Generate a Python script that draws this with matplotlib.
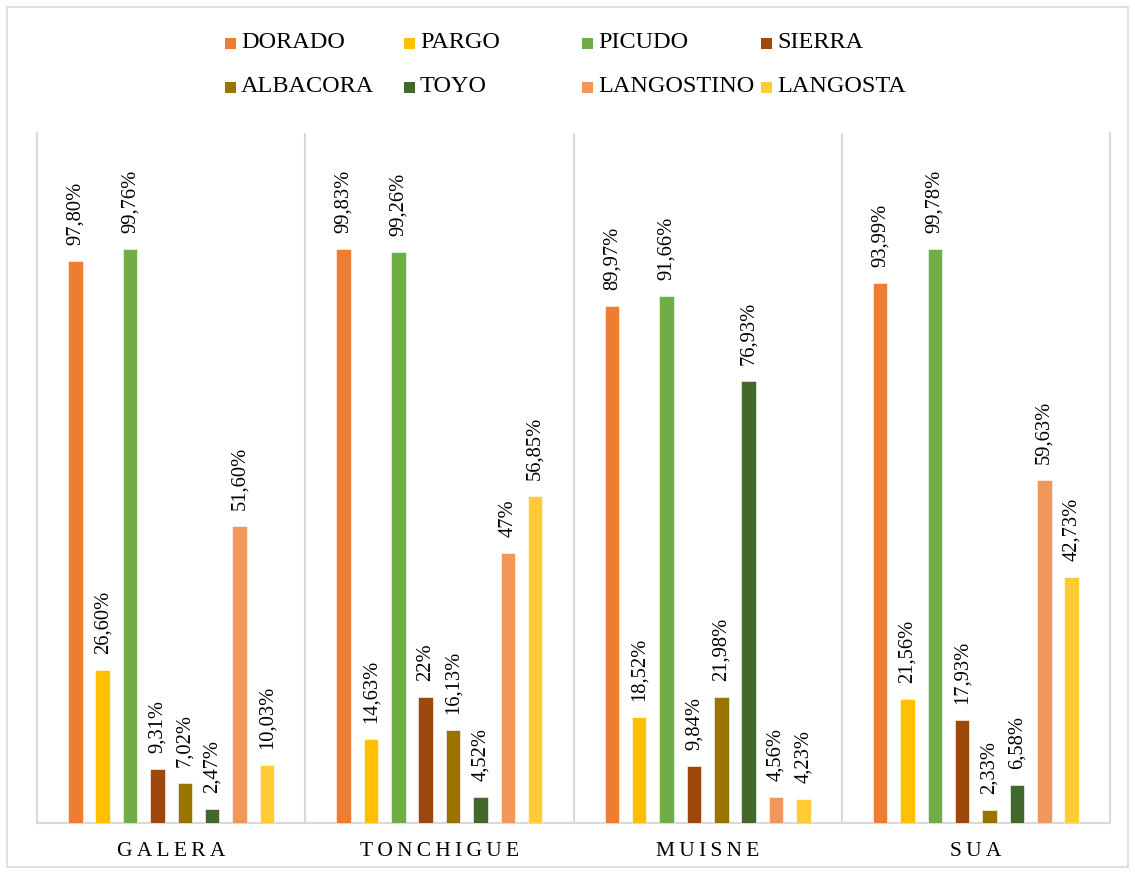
import matplotlib
matplotlib.use("Agg")
import matplotlib.pyplot as plt
from matplotlib.patches import Rectangle
import numpy as np

plt.rcParams['font.family'] = ['Liberation Serif', 'DejaVu Serif']

categories = ["GALERA", "TONCHIGUE", "MUISNE", "SUA"]
series = ["DORADO", "PARGO", "PICUDO", "SIERRA", "ALBACORA", "TOYO", "LANGOSTINO", "LANGOSTA"]
colors = ["#ED7D31", "#FFC000", "#70AD47", "#9E480E", "#997300", "#43682B", "#F1975A", "#FFCD33"]

DORADO = [97.80, 99.83, 89.97, 93.99]
PARGO = [26.60, 14.63, 18.52, 21.56]
PICUDO = [99.76, 99.26, 91.66, 99.78]
SIERRA = [9.31, 22.00, 9.84, 17.93]
ALBACORA = [7.02, 16.13, 21.98, 2.33]
TOYO = [2.47, 4.52, 76.93, 6.58]
LANGOSTINO = [51.60, 47.00, 4.56, 59.63]
LANGOSTA = [10.03, 56.85, 4.23, 42.73]

labels_DORADO = ["97,80%", "99,83%", "89,97%", "93,99%"]
labels_PARGO = ["26,60%", "14,63%", "18,52%", "21,56%"]
labels_PICUDO = ["99,76%", "99,26%", "91,66%", "99,78%"]
labels_SIERRA = ["9,31%", "22%", "9,84%", "17,93%"]
labels_ALBACORA = ["7,02%", "16,13%", "21,98%", "2,33%"]
labels_TOYO = ["2,47%", "4,52%", "76,93%", "6,58%"]
labels_LANGOSTINO = ["51,60%", "47%", "4,56%", "59,63%"]
labels_LANGOSTA = ["10,03%", "56,85%", "4,23%", "42,73%"]

values = [DORADO, PARGO, PICUDO, SIERRA, ALBACORA, TOYO, LANGOSTINO, LANGOSTA]
labels = [labels_DORADO, labels_PARGO, labels_PICUDO, labels_SIERRA,
          labels_ALBACORA, labels_TOYO, labels_LANGOSTINO, labels_LANGOSTA]

W, H = 1135, 874
fig = plt.figure(figsize=(W / 100, H / 100), dpi=100)
ax = fig.add_axes([37 / W, 1 - 823 / H, (1110 - 37) / W, (823 - 133) / H])

step = 0.102
bw = 0.054
centers = np.arange(len(categories)) + 0.5
for i, (name, vals, labs, c) in enumerate(zip(series, values, labels, colors)):
    x = centers + (i - 3.5) * step
    bars = ax.bar(x, vals, width=bw, color=c, edgecolor="white", linewidth=0.4, zorder=3)
    for b, lab in zip(bars, labs):
        ax.annotate(lab, (b.get_x() + b.get_width() / 2, b.get_height()),
                    xytext=(0, 11.5), textcoords="offset points", rotation=90,
                    ha="center", va="bottom", fontsize=14.8, color="#000000")

ax.set_xlim(0, len(categories))
ax.set_ylim(0, 120)
ax.set_yticks([])
ax.set_xticks(centers)
ax.set_xticklabels(["\u2009".join(list(c)) for c in categories], fontsize=15.5)
ax.tick_params(axis="x", length=0, pad=14)
for k in range(1, len(categories)):
    ax.axvline(k, color="#D9D9D9", linewidth=1.5, zorder=1)
for s in ["left", "right", "bottom"]:
    ax.spines[s].set_color("#D9D9D9")
    ax.spines[s].set_linewidth(1.5)
ax.spines["top"].set_visible(False)

# legend (manual, Excel-like layout)
leg_x = [225, 404, 582, 761]
leg_y = [43, 87]
for i, (name, c) in enumerate(zip(series, colors)):
    px = leg_x[i % 4]
    py = leg_y[i // 4]
    fig.patches.append(Rectangle((px / W, 1 - (py + 6) / H), 11 / W, 11 / H,
                                 transform=fig.transFigure, facecolor=c, edgecolor="none"))
    fig.text((px + 16) / W, 1 - py / H, name, fontsize=17.5, va="center", ha="left")

fig.patches.append(Rectangle((7 / W, 1 - 867 / H), (1128 - 7) / W, (867 - 7) / H,
                             transform=fig.transFigure, facecolor="none",
                             edgecolor="#D9D9D9", linewidth=1.2))

fig.savefig("out.png", dpi=100)
